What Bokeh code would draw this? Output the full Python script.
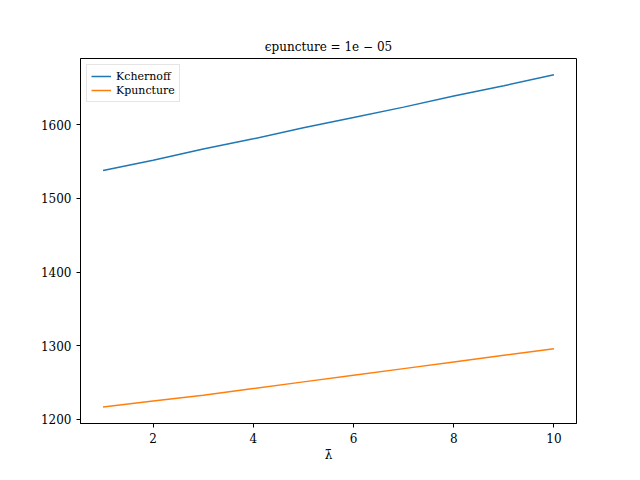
from bokeh.embed import file_html
from bokeh.resources import INLINE
from bokeh.models import Range1d, Legend, LegendItem, FixedTicker
from bokeh.plotting import figure

#-- data
lam = [1, 2, 3, 4, 5, 6, 7, 8, 9, 10]
k_chernoff = [1538, 1552, 1567, 1581, 1596, 1610, 1624, 1639, 1653, 1668]
k_puncture = [1217, 1225, 1233, 1242, 1251, 1260, 1269, 1278, 1287, 1296]
x_ticks = [2, 4, 6, 8, 10]
y_ticks = [1200, 1300, 1400, 1500, 1600]

FONT = "DejaVu Serif"

p = figure(
    width=624, height=464,
    x_range=Range1d(0.55, 10.45), y_range=Range1d(1194.5, 1690),
    output_backend="svg", toolbar_location=None,
    min_border_left=80, min_border_right=48, min_border_top=58, min_border_bottom=37,
    title="ϵpuncture = 1e − 05",
)
p.title.align = "center"
p.title.text_font = FONT
p.title.text_font_style = "normal"
p.title.text_font_size = "12px"
p.title.text_color = "black"

l1 = p.line(lam, k_chernoff, line_color="#1f77b4", line_width=1.5)
l2 = p.line(lam, k_puncture, line_color="#ff7f0e", line_width=1.5)

legend = Legend(items=[LegendItem(label="Kchernoff", renderers=[l1]),
                       LegendItem(label="Kpuncture", renderers=[l2])],
                location="top_left")
legend.label_text_font = FONT
legend.label_text_font_size = "11px"
legend.label_text_color = "black"
legend.glyph_height = 14
legend.label_height = 14
legend.spacing = 0
legend.padding = 4
legend.margin = 6
legend.border_line_color = "#cccccc"
p.add_layout(legend)

p.xgrid.visible = False
p.ygrid.visible = False
p.outline_line_color = "black"
p.xaxis.ticker = FixedTicker(ticks=x_ticks)
p.yaxis.ticker = FixedTicker(ticks=y_ticks)
p.xaxis.axis_label = "λ̄"
for ax in (p.xaxis, p.yaxis):
    ax.minor_tick_line_color = None
    ax.major_tick_in = 0
    ax.major_tick_out = 4
    ax.major_tick_line_color = "black"
    ax.major_label_text_font = FONT
    ax.major_label_text_font_size = "12px"
    ax.major_label_text_color = "black"
    ax.axis_label_text_font = FONT
    ax.axis_label_text_font_style = "normal"
    ax.axis_label_text_font_size = "12px"
    ax.axis_label_text_color = "black"
    ax.axis_line_color = "black"
p.xaxis.axis_label_standoff = 2

open("out.html", "w").write(file_html(p, INLINE))
